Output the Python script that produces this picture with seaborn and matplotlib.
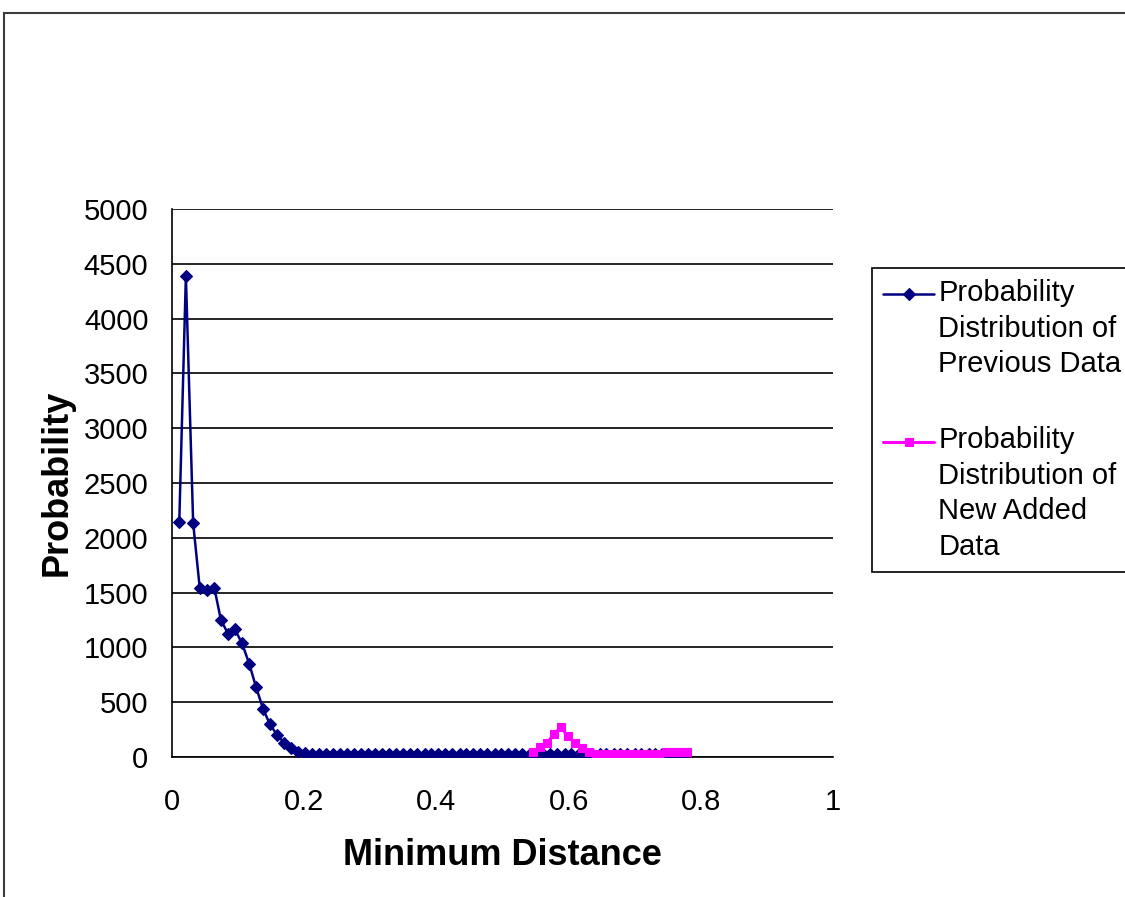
import matplotlib
matplotlib.use("Agg")
import matplotlib.pyplot as plt
import seaborn as sns
from matplotlib.legend_handler import HandlerLine2D
from matplotlib.patches import Rectangle

# Minimum-distance histogram of the previous data (bin centres and counts)
prev_dist = [0.011, 0.021, 0.032, 0.042, 0.053, 0.064, 0.074, 0.085, 0.095, 0.106,
             0.117, 0.127, 0.138, 0.148, 0.159, 0.170, 0.180, 0.191, 0.201, 0.212,
             0.223, 0.233, 0.244, 0.254, 0.265, 0.276, 0.286, 0.297, 0.307, 0.318,
             0.329, 0.339, 0.350, 0.360, 0.371, 0.382, 0.392, 0.403, 0.413, 0.424,
             0.435, 0.445, 0.456, 0.466, 0.477, 0.488, 0.498, 0.509, 0.519, 0.530,
             0.541, 0.551, 0.562, 0.572, 0.583, 0.594, 0.604, 0.615, 0.625, 0.636,
             0.647, 0.657, 0.668, 0.678, 0.689, 0.700, 0.710, 0.721, 0.731, 0.742,
             0.753, 0.763, 0.774]
prev_prob = [2144, 4390, 2135, 1540, 1523, 1544, 1250, 1122, 1165, 1037,
             848, 641, 435, 301, 200, 130, 79, 48, 33, 30,
             28, 28, 28, 28, 28, 28, 28, 28, 28, 28,
             28, 28, 28, 28, 28, 28, 28, 28, 28, 28,
             28, 28, 28, 28, 28, 28, 28, 28, 28, 28,
             28, 28, 28, 28, 28, 28, 28, 28, 28, 28,
             28, 28, 28, 28, 28, 28, 28, 28, 28, 28,
             28, 28, 28]

# Minimum-distance histogram of the newly added data
new_dist = [0.546, 0.557, 0.567, 0.578, 0.588, 0.599, 0.610, 0.620, 0.631, 0.641,
            0.652, 0.663, 0.673, 0.684, 0.694, 0.705, 0.716, 0.726, 0.737, 0.747,
            0.758, 0.769, 0.779]
new_prob = [48, 94, 125, 210, 272, 190, 128, 85, 48, 30,
            28, 28, 28, 28, 28, 28, 28, 28, 30, 48,
            50, 50, 42]

x_ticks = [0, 0.2, 0.4, 0.6, 0.8, 1]
x_tick_labels = ["0", "0.2", "0.4", "0.6", "0.8", "1"]
y_ticks = [0, 500, 1000, 1500, 2000, 2500, 3000, 3500, 4000, 4500, 5000]

label_prev = "Probability\nDistribution of\nPrevious Data"
label_new = "Probability\nDistribution of\nNew Added\nData"

NAVY = "#000080"
MAGENTA = "#FF00FF"

sns.set_style("white")
plt.rcParams["font.family"] = ["Liberation Sans", "DejaVu Sans"]

W, H = 1125, 897
fig = plt.figure(figsize=(W / 100, H / 100), dpi=100)
ax = fig.add_axes([172 / W, 1 - 757 / H, (833 - 172) / W, (757 - 209) / H])

sns.lineplot(x=prev_dist, y=prev_prob, ax=ax, color=NAVY, linewidth=1.8,
             marker="D", markersize=5.8, markeredgecolor=NAVY, markeredgewidth=0.8,
             sort=False, legend=False, label=label_prev, zorder=3)
sns.lineplot(x=new_dist, y=new_prob, ax=ax, color=MAGENTA, linewidth=2.2,
             marker="s", markersize=6.2, markeredgecolor=MAGENTA, markeredgewidth=0.8,
             sort=False, legend=False, label=label_new, zorder=4)

ax.set_xlim(0, 1)
ax.set_ylim(0, 5000)
ax.set_xticks(x_ticks)
ax.set_xticklabels(x_tick_labels)
ax.set_yticks(y_ticks)
ax.set_yticklabels([str(v) for v in y_ticks])

ax.yaxis.grid(True, color="black", linewidth=1.2)
ax.xaxis.grid(False)
ax.set_axisbelow(True)
for side in ("top", "right"):
    ax.spines[side].set_visible(False)
for side in ("left", "bottom"):
    ax.spines[side].set_color("black")
    ax.spines[side].set_linewidth(1.2)

ax.tick_params(axis="both", direction="out", length=5, width=1.2, color="black",
               labelsize=21, labelcolor="black")
ax.tick_params(axis="y", pad=12)
ax.tick_params(axis="x", pad=17)

ax.set_xlabel("Minimum Distance", fontsize=26, fontweight="bold", va="top",
              color="black")
ax.set_ylabel("Probability", fontsize=26, fontweight="bold", color="black")
ax.xaxis.set_label_coords(0.5, -0.148)
ax.yaxis.set_label_coords(-0.147, 0.5)


class FirstLineHandler(HandlerLine2D):
    """Keeps the legend key level with the first line of a multi-line label."""

    def __init__(self, lift, **kw):
        super().__init__(**kw)
        self.lift = lift

    def create_artists(self, legend, orig_handle, xdescent, ydescent, width,
                       height, fontsize, trans):
        return super().create_artists(legend, orig_handle, xdescent,
                                      ydescent - 2 * self.lift, width, height,
                                      fontsize, trans)


line_pitch_pt = 35 * 72 / 100
lines = ax.get_lines()
h_prev, h_new = lines[0], lines[1]
handler_map = {
    h_prev: FirstLineHandler(lift=1.0 * line_pitch_pt, numpoints=1),
    h_new: FirstLineHandler(lift=1.5 * line_pitch_pt, numpoints=1),
}
leg = ax.legend([h_prev, h_new], [label_prev, label_new],
                handler_map=handler_map,
                loc="upper left", bbox_to_anchor=(872 / W, 1 - 268 / H),
                bbox_transform=fig.transFigure, borderaxespad=0,
                fontsize=21, frameon=True, fancybox=False, shadow=False,
                framealpha=1, edgecolor="black", borderpad=0.38,
                handlelength=1.75, handletextpad=0.15, labelspacing=1.65)
leg.get_frame().set_linewidth(1.2)
for t in leg.get_texts():
    t.set_linespacing(1.34)
    t.set_color("black")

# Outer chart-area frame
fig.add_artist(Rectangle((4 / W, -0.1), 1.2, (H - 13) / H + 0.1,
                         transform=fig.transFigure, fill=False,
                         edgecolor="#3c3c3c", linewidth=1.5))

fig.savefig("out.png", dpi=100)
